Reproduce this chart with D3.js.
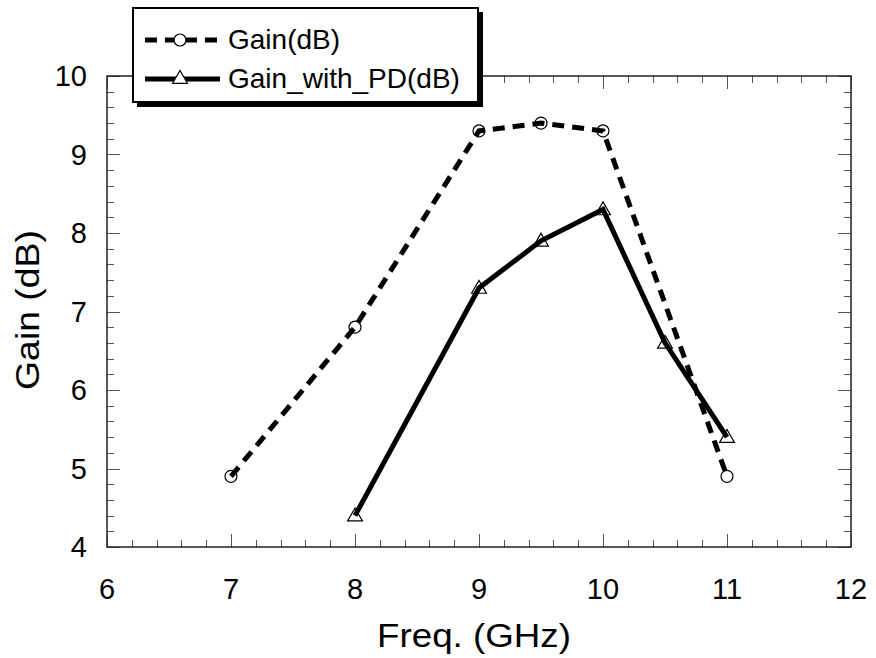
<!DOCTYPE html>
<html lang="en">
  <head>
    <meta charset="utf-8">
    <title>Gain vs Freq</title>
    <script src="https://cdn.jsdelivr.net/npm/d3@7/dist/d3.min.js"></script>
    <style>
      body { margin: 0; background: #fff; }
      text { font-family: "Liberation Sans", Arial, sans-serif; fill: #000; }
    </style>
  </head>
  <body>
    <div id="chart"></div>
  </body>
</html>

<script>

const freqGain = [7, 8, 9, 9.5, 10, 11]
const gain = [4.9, 6.8, 9.3, 9.4, 9.3, 4.9]
const freqPD = [8, 9, 9.5, 10, 10.5, 11]
const gainPD = [4.4, 7.3, 7.9, 8.3, 6.6, 5.4]
const xTicks = [6, 7, 8, 9, 10, 11, 12]
const yTicks = [4, 5, 6, 7, 8, 9, 10]
const seriesNames = ["Gain(dB)", "Gain_with_PD(dB)"]

const width = 876, height = 658
const margin = {left: 107, right: 25, top: 76, bottom: 111}

const svg = d3.select("#chart").append("svg")
  .attr("width", width)
  .attr("height", height)

const x = d3.scaleLinear().domain([6, 12]).range([margin.left, width - margin.right])
const y = d3.scaleLinear().domain([4, 10]).range([height - margin.bottom, margin.top])

const minorX = d3.range(6, 12.001, 0.2)
const minorY = d3.range(4, 10.001, 0.2)

// ticks on all four sides, pointing inwards
const tickG = svg.append("g").attr("stroke", "#555").attr("stroke-width", 1)
const isMajor = v => Math.abs(v - Math.round(v)) < 1e-6
minorX.forEach(v => {
  const len = isMajor(v) ? 13 : 7
  const px = Math.round(x(v)) + 0.5
  tickG.append("line").attr("x1", px).attr("x2", px).attr("y1", y(4)).attr("y2", y(4) - len)
  tickG.append("line").attr("x1", px).attr("x2", px).attr("y1", y(10)).attr("y2", y(10) + len)
})
minorY.forEach(v => {
  const len = isMajor(v) ? 13 : 7
  const py = Math.round(y(v)) + 0.5
  tickG.append("line").attr("y1", py).attr("y2", py).attr("x1", x(6)).attr("x2", x(6) + len)
  tickG.append("line").attr("y1", py).attr("y2", py).attr("x1", x(12)).attr("x2", x(12) - len)
})

// frame
svg.append("rect")
  .attr("x", x(6)).attr("y", y(10))
  .attr("width", x(12) - x(6)).attr("height", y(4) - y(10))
  .attr("fill", "none").attr("stroke", "#222").attr("stroke-width", 1.5)

// tick labels
svg.append("g").selectAll("text")
  .data(xTicks).join("text")
  .attr("x", d => x(d))
  .attr("y", 599)
  .attr("text-anchor", "middle")
  .style("font-size", "29px")
  .text(d => d)

svg.append("g").selectAll("text")
  .data(yTicks).join("text")
  .attr("x", 87)
  .attr("y", d => y(d) + 10)
  .attr("text-anchor", "end")
  .style("font-size", "29px")
  .text(d => d)

// axis titles
svg.append("text")
  .attr("x", 474).attr("y", 647)
  .attr("text-anchor", "middle")
  .attr("textLength", 194).attr("lengthAdjust", "spacingAndGlyphs")
  .style("font-size", "34px")
  .text("Freq. (GHz)")

svg.append("text")
  .attr("transform", "translate(39,310) rotate(-90)")
  .attr("text-anchor", "middle")
  .attr("textLength", 160).attr("lengthAdjust", "spacingAndGlyphs")
  .style("font-size", "34px")
  .text("Gain (dB)")

const line = d3.line().x(d => x(d[0])).y(d => y(d[1]))
const dataGain = freqGain.map((f, i) => [f, gain[i]])
const dataPD = freqPD.map((f, i) => [f, gainPD[i]])

const triangle = d3.symbol().type(d3.symbolTriangle).size(95)

// markers first, lines drawn over them
svg.append("g").selectAll("circle")
  .data(dataGain).join("circle")
  .attr("cx", d => x(d[0])).attr("cy", d => y(d[1]))
  .attr("r", 6)
  .attr("fill", "#fff").attr("stroke", "#000").attr("stroke-width", 1.2)

svg.append("g").selectAll("path")
  .data(dataPD).join("path")
  .attr("d", triangle)
  .attr("transform", d => `translate(${x(d[0])},${y(d[1]) + 1})`)
  .attr("fill", "#fff").attr("stroke", "#000").attr("stroke-width", 1.2)

svg.append("path")
  .datum(dataGain)
  .attr("d", line)
  .attr("fill", "none").attr("stroke", "#000")
  .attr("stroke-width", 5)
  .attr("stroke-dasharray", "12,8")

svg.append("path")
  .datum(dataPD)
  .attr("d", line)
  .attr("fill", "none").attr("stroke", "#000")
  .attr("stroke-width", 5)

// legend box with shadow
const legend = svg.append("g")
legend.append("rect")
  .attr("x", 137).attr("y", 12).attr("width", 346).attr("height", 95)
  .attr("fill", "#000")
legend.append("rect")
  .attr("x", 133).attr("y", 8).attr("width", 345).attr("height", 94)
  .attr("fill", "#fff").attr("stroke", "#000").attr("stroke-width", 2)

const legY = [40, 79]
legend.append("line")
  .attr("x1", 145).attr("x2", 220).attr("y1", legY[0]).attr("y2", legY[0])
  .attr("stroke", "#000").attr("stroke-width", 5).attr("stroke-dasharray", "12,8")
legend.append("circle")
  .attr("cx", 180).attr("cy", legY[0]).attr("r", 6)
  .attr("fill", "#fff").attr("stroke", "#000").attr("stroke-width", 1.2)
legend.append("line")
  .attr("x1", 145).attr("x2", 220).attr("y1", legY[1]).attr("y2", legY[1])
  .attr("stroke", "#000").attr("stroke-width", 5)
legend.append("path")
  .attr("d", triangle)
  .attr("transform", `translate(180,${legY[1]})`)
  .attr("fill", "#fff").attr("stroke", "#000").attr("stroke-width", 1.2)

legend.selectAll("text.leg")
  .data(seriesNames).join("text")
  .attr("class", "leg")
  .attr("x", 228)
  .attr("y", (d, i) => legY[i] + 9)
  .style("font-size", "28px")
  .text(d => d)

</script>
